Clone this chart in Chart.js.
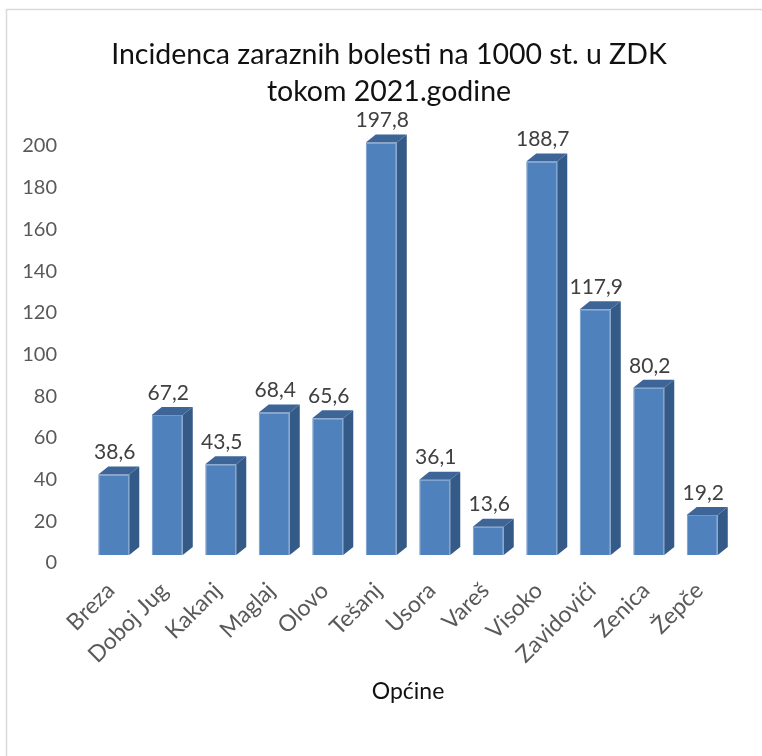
<!DOCTYPE html>
<html>
<head>
<meta charset="utf-8">
<script src="https://cdn.jsdelivr.net/npm/chart.js@4"></script>
<style>
  body { margin: 0; background: #fff; }
  canvas { display: block; }
</style>
</head>
<body>
<canvas id="grafik" width="762" height="756"></canvas>
<script>
// Podaci sa grafika
const opcine = ["Breza", "Doboj Jug", "Kakanj", "Maglaj", "Olovo", "Tešanj", "Usora", "Vareš", "Visoko", "Zavidovići", "Zenica", "Žepče"];
const incidenca = [38.6, 67.2, 43.5, 68.4, 65.6, 197.8, 36.1, 13.6, 188.7, 117.9, 80.2, 19.2];
const naslov = ["Incidenca zaraznih bolesti na 1000 st. u ZDK", "tokom 2021.godine"];
const nazivOse = "Općine";

const FONT = "Lato";
const dubX = 10, dubY = 8; // 3D dubina stupaca

// okvir oko grafika (lijevo i gore) + naslov
const okvirPlugin = {
    id: "okvir",
    beforeDraw(chart) {
        const ctx = chart.ctx;
        ctx.save();
        ctx.fillStyle = "#fff";
        ctx.fillRect(0, 0, chart.width, chart.height);
        ctx.strokeStyle = "#d9d9d9";
        ctx.lineWidth = 1.5;
        ctx.beginPath();
        ctx.moveTo(6.5, chart.height);
        ctx.lineTo(6.5, 9.5);
        ctx.lineTo(chart.width, 9.5);
        ctx.stroke();
        // naslov
        ctx.fillStyle = "#111";
        ctx.font = "28.5px " + FONT;
        ctx.textAlign = "center";
        ctx.textBaseline = "middle";
        naslov.forEach(function (red, i) {
            ctx.fillText(red, 389, 55 + i * 37);
        });
        ctx.restore();
    }
};

// bočne i gornje strane stupaca + vrijednosti
const stupci3D = {
    id: "stupci3D",
    afterDatasetsDraw(chart) {
        const ctx = chart.ctx;
        const meta = chart.getDatasetMeta(0);
        ctx.save();
        meta.data.forEach(function (bar, i) {
            const p = bar.getProps(["x", "y", "base", "width"], true);
            const l = p.x - p.width / 2, r = p.x + p.width / 2;
            // bok
            ctx.fillStyle = "#345a87";
            ctx.beginPath();
            ctx.moveTo(r, p.y);
            ctx.lineTo(r + dubX, p.y - dubY);
            ctx.lineTo(r + dubX, p.base - dubY);
            ctx.lineTo(r, p.base);
            ctx.closePath();
            ctx.fill();
            // vrh
            ctx.fillStyle = "#3e6598";
            ctx.beginPath();
            ctx.moveTo(l, p.y);
            ctx.lineTo(l + dubX, p.y - dubY);
            ctx.lineTo(r + dubX, p.y - dubY);
            ctx.lineTo(r, p.y);
            ctx.closePath();
            ctx.fill();
            // vrijednost
            ctx.fillStyle = "#404040";
            ctx.font = "21px " + FONT;
            ctx.textAlign = "center";
            ctx.textBaseline = "middle";
            ctx.fillText(incidenca[i].toFixed(1).replace(".", ","), p.x + 1, p.y - 22);
        });
        ctx.restore();
    }
};

new Chart(document.getElementById("grafik"), {
    type: "bar",
    data: {
        labels: opcine,
        datasets: [{
            data: incidenca,
            backgroundColor: "#4f81bd",
            borderColor: "#6f98cc",
            borderWidth: 1,
            barPercentage: 0.58,
            categoryPercentage: 1
        }]
    },
    options: {
        responsive: false,
        animation: false,
        layout: { padding: { left: 10, right: 33, top: 138, bottom: 0 } },
        plugins: {
            legend: { display: false },
            tooltip: { enabled: false },
            title: { display: false }
        },
        scales: {
            x: {
                grid: { display: false },
                border: { display: false },
                ticks: {
                    color: "#595959",
                    font: { family: FONT, size: 23 },
                    minRotation: 45,
                    maxRotation: 45,
                    padding: 14,
                    labelOffset: -3,
                    autoSkip: false
                },
                title: {
                    display: true,
                    text: nazivOse,
                    color: "#111",
                    font: { family: FONT, size: 23 },
                    padding: { top: 0, bottom: 51 }
                },
                afterFit: function (s) { s.height = 201; }
            },
            y: {
                min: 0,
                max: 200,
                grid: { display: false, drawTicks: false },
                border: { display: false },
                ticks: {
                    stepSize: 20,
                    color: "#595959",
                    font: { family: FONT, size: 20 },
                    padding: 30,
                    labelOffset: 8
                },
                afterFit: function (s) { s.width = 77; }
            }
        }
    },
    plugins: [okvirPlugin, stupci3D]
});
</script>
</body>
</html>
